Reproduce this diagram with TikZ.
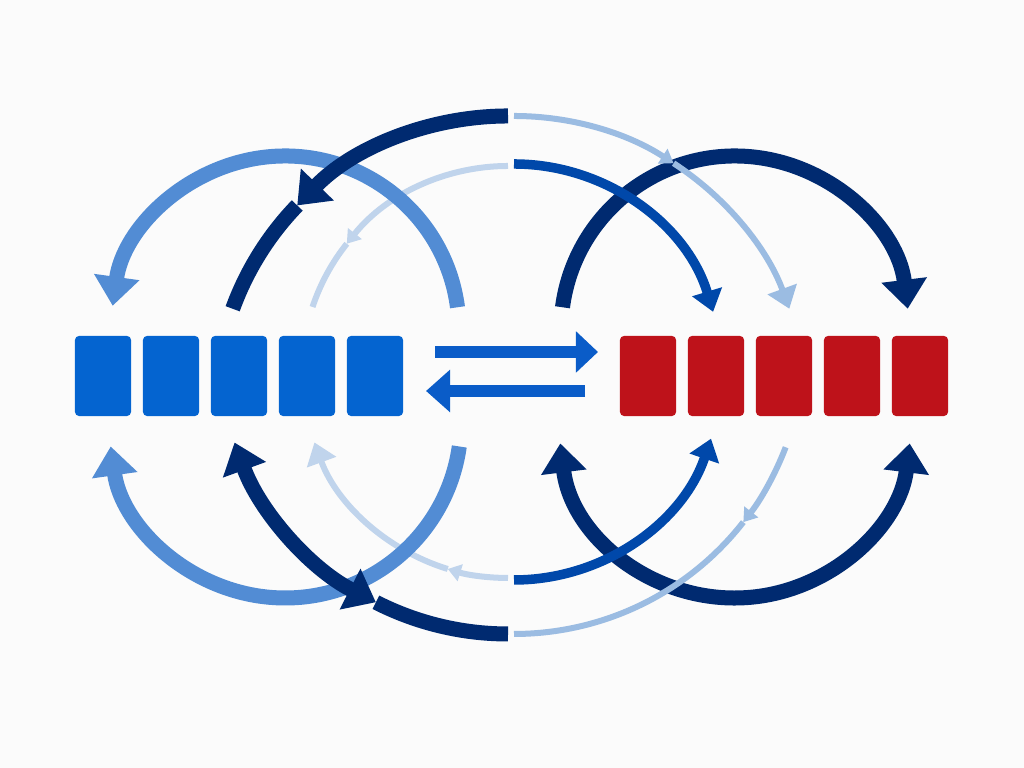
\documentclass[tikz,border=0pt]{standalone}
\usepackage{xcolor}
\usepackage{tikz}
\usetikzlibrary{arrows.meta}

\definecolor{paper}{RGB}{251,251,251}
\definecolor{arcnavy}{RGB}{0,42,112}
\definecolor{arcmid}{RGB}{0,72,170}
\definecolor{arclight}{RGB}{82,140,212}
\definecolor{arcpale}{RGB}{155,188,226}
\definecolor{arcfaint}{RGB}{192,212,236}
\definecolor{cellblue}{RGB}{4,100,208}
\definecolor{cellred}{RGB}{190,18,26}
\definecolor{swapblue}{RGB}{10,92,200}

\tikzset{
  cell/.style={minimum width=0.56cm,minimum height=0.8cm,inner sep=0pt,
    rounded corners=0.04cm},
  navyline/.style={arcnavy,line width=0.15cm},
  lightline/.style={arclight,line width=0.15cm},
  midline/.style={arcmid,line width=0.095cm},
  paleline/.style={arcpale,line width=0.06cm},
  faintline/.style={arcfaint,line width=0.06cm},
  swapline/.style={swapblue,line width=0.12cm},
  bighead/.style={-{Triangle[width=0.44cm,length=0.29cm]}},
  smallhead/.style={-{Triangle[width=0.30cm,length=0.21cm]}},
  tinyhead/.style={-{Triangle[width=0.17cm,length=0.13cm]}}
}

\begin{document}
\begin{tikzpicture}[x=0.01cm,y=0.01cm]
\newcommand{\swing}[5][]{%
  \draw[#1] ([shift={(#3:#5)}]#2) arc[start angle=#3,end angle=#4,radius=#5];
}
\fill[paper] (0,0) rectangle (1024,768);
\useasboundingbox (0,0) rectangle (1024,768);

% the two rows of cells
\foreach \i in {1,...,5}{
  \node[cell,fill=cellblue] (b\i) at ({35+68*\i},392) {};
  \node[cell,fill=cellred] (r\i) at ({580+68*\i},392) {};
}

% centres of the arcs
\coordinate (lu) at (285,438);
\coordinate (ll) at (285,346);
\coordinate (mu) at (508,359);
\coordinate (ml) at (508,425);
\coordinate (fc) at (508,396);
\coordinate (ru) at (735,438);
\coordinate (rl) at (735,346);
\coordinate (nu) at (514,359);
\coordinate (nl) at (514,425);
\coordinate (sc) at (514,396);

% faint arcs, left
\swing[faintline,tinyhead]{fc}{90}{141.5}{206}
\swing[faintline]{fc}{141.5}{161.6}{206}
\swing[faintline,tinyhead]{fc}{270}{253}{206}
\swing[faintline,smallhead]{fc}{253}{200}{206}

% light arcs, left
\swing[lightline,bighead]{lu}{7.5}{172}{174}
\swing[lightline,bighead]{ll}{-8}{-172}{176}

% navy arcs, left
\swing[navyline,bighead]{mu}{90}{136}{293}
\swing[navyline]{mu}{136}{160}{293}
\swing[navyline,{Triangle[width=0.44cm,length=0.29cm]}-{Triangle[width=0.44cm,length=0.29cm]}]{ml}{200}{243}{291}
\swing[navyline]{ml}{243}{270}{291}

% navy arcs, right
\swing[navyline,bighead]{ru}{172.5}{7}{174}
\swing[navyline,{Triangle[width=0.44cm,length=0.29cm]}-{Triangle[width=0.44cm,length=0.29cm]}]{rl}{187}{353}{176}

% mid blue arcs, right
\swing[midline,smallhead]{sc}{90}{16.8}{208}
\swing[midline,smallhead]{sc}{270}{341.3}{208}

% pale arcs, right
\swing[paleline,tinyhead]{nu}{90}{57}{293}
\swing[paleline,smallhead]{nu}{57}{20}{293}
\swing[paleline,tinyhead]{nl}{339}{322}{291}
\swing[paleline]{nl}{322}{270}{291}

% swap arrows between the rows
\coordinate (fwdA) at (435,416);
\coordinate (fwdB) at (598,416);
\coordinate (bckA) at (585,377);
\coordinate (bckB) at (426,377);
\draw[swapline,-{Triangle[width=0.40cm,length=0.22cm]}] (fwdA) -- (fwdB);
\draw[swapline,-{Triangle[width=0.41cm,length=0.24cm]}] (bckA) -- (bckB);
\end{tikzpicture}
\end{document}
